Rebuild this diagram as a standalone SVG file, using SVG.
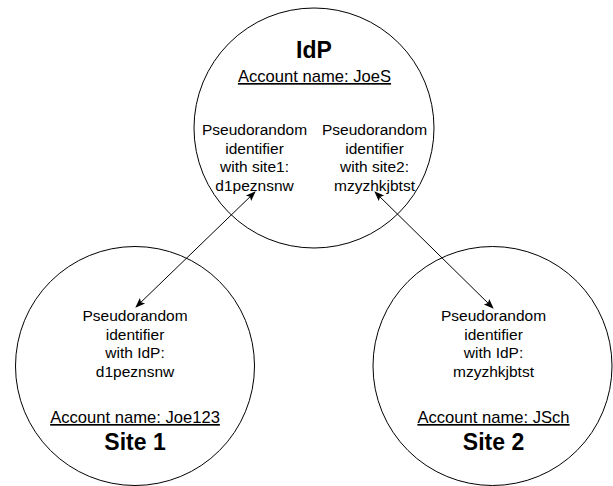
<svg xmlns="http://www.w3.org/2000/svg" width="613" height="486" viewBox="0 0 613 486">
<style>
.node circle{fill:#fff;stroke:#000;stroke-width:1}
text{font-family:"Liberation Sans",Arial,Helvetica,sans-serif;fill:#000;text-anchor:middle}
.t{font-size:15.5px}
.acc{font-size:16.6px;text-decoration:underline}
.title{font-size:23px;font-weight:bold}
.conn line{stroke:#000;stroke-width:1;marker-start:url(#ah);marker-end:url(#ah)}
</style>
<defs>
<marker id="ah" viewBox="0 0 10 10" refX="9" refY="5" markerWidth="10" markerHeight="10" markerUnits="userSpaceOnUse" orient="auto-start-reverse">
<path d="M0,1.2 L10,5 L0,8.8 L2,5 Z" fill="#000"/>
</marker>
</defs>
<rect width="613" height="486" fill="#fff"/>
<g id="idp" class="node">
<circle cx="314" cy="128" r="120"/>
<text class="title" x="314" y="58">IdP</text>
<text class="acc" x="314.5" y="82">Account name: JoeS</text>
<text class="t" x="254.5" y="135">Pseudorandom</text>
<text class="t" x="254.5" y="153.6">identifier</text>
<text class="t" x="254.5" y="172.2">with site1:</text>
<text class="t" x="254.5" y="190.8">d1peznsnw</text>
<text class="t" x="374.5" y="135">Pseudorandom</text>
<text class="t" x="374.5" y="153.6">identifier</text>
<text class="t" x="374.5" y="172.2">with site2:</text>
<text class="t" x="374.5" y="190.8">mzyzhkjbtst</text>
</g>
<g id="site1" class="node">
<circle cx="135" cy="366" r="119.5"/>
<text class="t" x="135" y="321">Pseudorandom</text>
<text class="t" x="135" y="339.6">identifier</text>
<text class="t" x="135" y="358.2">with IdP:</text>
<text class="t" x="135" y="376.8">d1peznsnw</text>
<text class="acc" x="135" y="423">Account name: Joe123</text>
<text class="title" x="135" y="450">Site 1</text>
</g>
<g id="site2" class="node">
<circle cx="492.5" cy="366" r="119.5"/>
<text class="t" x="493.5" y="321">Pseudorandom</text>
<text class="t" x="493.5" y="339.6">identifier</text>
<text class="t" x="493.5" y="358.2">with IdP:</text>
<text class="t" x="493.5" y="376.8">mzyzhkjbtst</text>
<text class="acc" x="493.5" y="423">Account name: JSch</text>
<text class="title" x="493.5" y="450">Site 2</text>
</g>
<g id="connectors" class="conn">
<line x1="255" y1="192" x2="136" y2="307"/>
<line x1="375" y1="192" x2="493" y2="308"/>
</g>
</svg>
